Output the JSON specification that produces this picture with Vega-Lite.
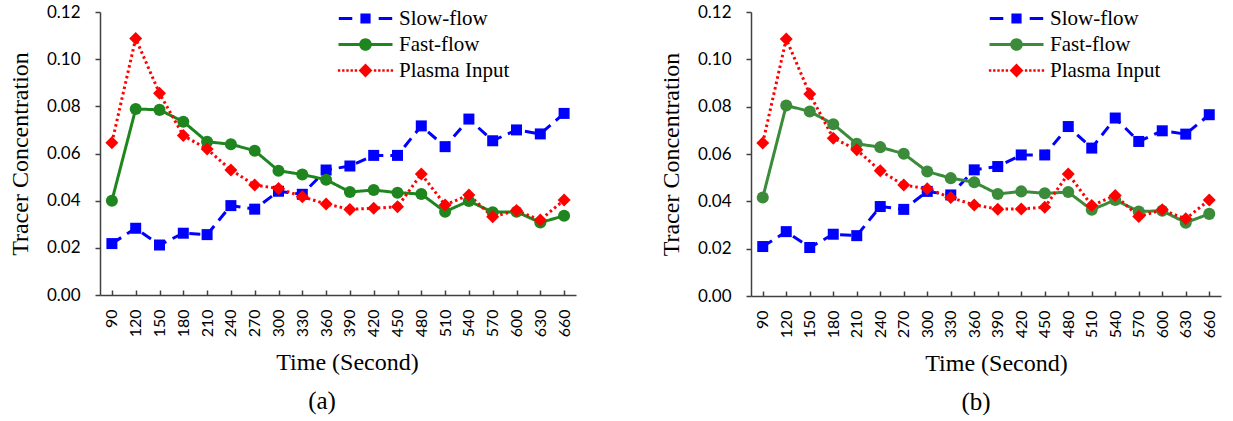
{
  "$schema": "https://vega.github.io/schema/vega-lite/v6.json",
  "background": "white",
  "padding": {"left": 8, "top": 3, "right": 5, "bottom": 0},
  "spacing": 83,
  "config": {
    "view": {"stroke": null},
    "axis": {
      "grid": false,
      "domainColor": "#404040",
      "domainWidth": 1.5,
      "tickColor": "#404040",
      "tickWidth": 1.5,
      "labelFont": "Lato",
      "labelColor": "#000000",
      "titleFont": "Liberation Serif",
      "titleFontSize": 24,
      "titleFontWeight": "normal",
      "titleColor": "#000000"
    },
    "title": {"font": "Liberation Serif", "fontSize": 25, "fontWeight": "normal", "color": "#000000"}
  },
  "datasets": {
    "a": [
      {"time": 90, "Slow-flow": 0.0218, "Fast-flow": 0.0400, "Plasma Input": 0.0646},
      {"time": 120, "Slow-flow": 0.0283, "Fast-flow": 0.0789, "Plasma Input": 0.1088},
      {"time": 150, "Slow-flow": 0.0212, "Fast-flow": 0.0785, "Plasma Input": 0.0855},
      {"time": 180, "Slow-flow": 0.0262, "Fast-flow": 0.0735, "Plasma Input": 0.0676},
      {"time": 210, "Slow-flow": 0.0256, "Fast-flow": 0.0650, "Plasma Input": 0.0619},
      {"time": 240, "Slow-flow": 0.0379, "Fast-flow": 0.0639, "Plasma Input": 0.0530},
      {"time": 270, "Slow-flow": 0.0364, "Fast-flow": 0.0612, "Plasma Input": 0.0466},
      {"time": 300, "Slow-flow": 0.0440, "Fast-flow": 0.0527, "Plasma Input": 0.0452},
      {"time": 330, "Slow-flow": 0.0427, "Fast-flow": 0.0511, "Plasma Input": 0.0417},
      {"time": 360, "Slow-flow": 0.0530, "Fast-flow": 0.0489, "Plasma Input": 0.0386},
      {"time": 390, "Slow-flow": 0.0547, "Fast-flow": 0.0437, "Plasma Input": 0.0363},
      {"time": 420, "Slow-flow": 0.0592, "Fast-flow": 0.0445, "Plasma Input": 0.0368},
      {"time": 450, "Slow-flow": 0.0592, "Fast-flow": 0.0434, "Plasma Input": 0.0374},
      {"time": 480, "Slow-flow": 0.0717, "Fast-flow": 0.0428, "Plasma Input": 0.0513},
      {"time": 510, "Slow-flow": 0.0629, "Fast-flow": 0.0353, "Plasma Input": 0.0382},
      {"time": 540, "Slow-flow": 0.0746, "Fast-flow": 0.0399, "Plasma Input": 0.0424},
      {"time": 570, "Slow-flow": 0.0654, "Fast-flow": 0.0351, "Plasma Input": 0.0332},
      {"time": 600, "Slow-flow": 0.0700, "Fast-flow": 0.0353, "Plasma Input": 0.0358},
      {"time": 630, "Slow-flow": 0.0683, "Fast-flow": 0.0307, "Plasma Input": 0.0318},
      {"time": 660, "Slow-flow": 0.0770, "Fast-flow": 0.0336, "Plasma Input": 0.0403}
    ],
    "b": [
      {"time": 90, "Slow-flow": 0.0209, "Fast-flow": 0.0416, "Plasma Input": 0.0646},
      {"time": 120, "Slow-flow": 0.0272, "Fast-flow": 0.0805, "Plasma Input": 0.1086},
      {"time": 150, "Slow-flow": 0.0205, "Fast-flow": 0.0780, "Plasma Input": 0.0853},
      {"time": 180, "Slow-flow": 0.0261, "Fast-flow": 0.0726, "Plasma Input": 0.0667},
      {"time": 210, "Slow-flow": 0.0255, "Fast-flow": 0.0643, "Plasma Input": 0.0618},
      {"time": 240, "Slow-flow": 0.0378, "Fast-flow": 0.0629, "Plasma Input": 0.0529},
      {"time": 270, "Slow-flow": 0.0366, "Fast-flow": 0.0601, "Plasma Input": 0.0469},
      {"time": 300, "Slow-flow": 0.0442, "Fast-flow": 0.0526, "Plasma Input": 0.0453},
      {"time": 330, "Slow-flow": 0.0427, "Fast-flow": 0.0498, "Plasma Input": 0.0416},
      {"time": 360, "Slow-flow": 0.0533, "Fast-flow": 0.0481, "Plasma Input": 0.0385},
      {"time": 390, "Slow-flow": 0.0547, "Fast-flow": 0.0431, "Plasma Input": 0.0367},
      {"time": 420, "Slow-flow": 0.0596, "Fast-flow": 0.0442, "Plasma Input": 0.0368},
      {"time": 450, "Slow-flow": 0.0596, "Fast-flow": 0.0434, "Plasma Input": 0.0375},
      {"time": 480, "Slow-flow": 0.0716, "Fast-flow": 0.0439, "Plasma Input": 0.0516},
      {"time": 510, "Slow-flow": 0.0625, "Fast-flow": 0.0364, "Plasma Input": 0.0382},
      {"time": 540, "Slow-flow": 0.0752, "Fast-flow": 0.0406, "Plasma Input": 0.0425},
      {"time": 570, "Slow-flow": 0.0653, "Fast-flow": 0.0357, "Plasma Input": 0.0336},
      {"time": 600, "Slow-flow": 0.0698, "Fast-flow": 0.0360, "Plasma Input": 0.0364},
      {"time": 630, "Slow-flow": 0.0684, "Fast-flow": 0.0310, "Plasma Input": 0.0326},
      {"time": 660, "Slow-flow": 0.0766, "Fast-flow": 0.0347, "Plasma Input": 0.0406}
    ]
  },
  "resolve": {"scale": {"color": "independent", "x": "independent", "y": "independent"}, "legend": {"color": "independent"}},
  "hconcat": [
    {
      "width": 476,
      "height": 283,
      "data": {"name": "a"},
      "transform": [{"fold": ["Slow-flow", "Fast-flow", "Plasma Input"], "as": ["series", "value"]}],
      "title": {"text": "(a)", "orient": "bottom", "anchor": "middle", "frame": "group", "offset": 14, "dx": -16, "font": "Liberation Serif", "fontWeight": "normal"},
      "encoding": {
        "x": {
          "field": "time", "type": "ordinal", "sort": "ascending",
          "scale": {"type": "point", "padding": 0.5},
          "axis": {"title": "Time (Second)", "titleFont": "Liberation Serif", "titleFontWeight": "normal", "titleFontSize": 24, "titleX": 247, "titlePadding": 14, "labelAngle": 270, "labelAlign": "right", "labelBaseline": "middle", "labelFontSize": 16, "labelPadding": 19, "tickSize": -5}
        },
        "y": {
          "field": "value", "type": "quantitative",
          "scale": {"domain": [0, 0.12], "nice": false, "zero": true},
          "axis": {"title": "Tracer Concentration", "titleFont": "Liberation Serif", "titleFontWeight": "normal", "values": [0, 0.02, 0.04, 0.06, 0.08, 0.1, 0.12], "format": ".2f", "labelFontSize": 17, "labelPadding": 15, "tickSize": 5, "titlePadding": 14}
        },
        "color": {
          "field": "series", "type": "nominal",
          "scale": {"domain": ["Slow-flow", "Fast-flow", "Plasma Input"], "range": ["#0000ff", "#1f861f", "#ff0000"]},
          "legend": {
            "orient": "none", "legendX": 234, "legendY": -4, "title": null, "padding": 0,
            "labelFont": "Liberation Serif", "labelFontWeight": "normal", "labelFontSize": 21, "labelColor": "#000000",
            "symbolSize": 144, "symbolOffset": 21, "labelOffset": 23, "rowPadding": 4, "symbolStrokeWidth": 0,
            "encode": {"symbols": {"update": {
              "shape": {"signal": "datum.value == 'Slow-flow' ? 'M-4.45,-0.25H-2.2V0.25H-4.45Z M-0.85,-0.85H0.85V0.85H-0.85Z M2.2,-0.25H4.45V0.25H2.2Z' : datum.value == 'Fast-flow' ? 'M-4.5,-0.25H-1V0.25H-4.5Z M1,-0.25H4.5V0.25H1Z M-1.05,0C-1.05,-0.58 -0.58,-1.05 0,-1.05C0.58,-1.05 1.05,-0.58 1.05,0C1.05,0.58 0.58,1.05 0,1.05C-0.58,1.05 -1.05,0.58 -1.05,0Z' : 'M-4.6,-0.2h0.4v0.4h-0.4Z M-3.9,-0.2h0.4v0.4h-0.4Z M-3.2,-0.2h0.4v0.4h-0.4Z M-2.5,-0.2h0.4v0.4h-0.4Z M-1.8,-0.2h0.4v0.4h-0.4Z M0,-1.15L1.15,0L0,1.15L-1.15,0Z M1.4,-0.2h0.4v0.4h-0.4Z M2.1,-0.2h0.4v0.4h-0.4Z M2.8,-0.2h0.4v0.4h-0.4Z M3.5,-0.2h0.4v0.4h-0.4Z M4.2,-0.2h0.4v0.4h-0.4Z'"},
              "fill": {"signal": "datum.value == 'Slow-flow' ? '#0000ff' : datum.value == 'Fast-flow' ? '#1f861f' : '#ff0000'"},
              "stroke": {"value": "transparent"},
              "opacity": {"value": 1}
            }}}
          }
        }
      },
      "layer": [
        {
          "mark": {"type": "line", "strokeWidth": 3},
          "encoding": {
            "strokeDash": {"field": "series", "type": "nominal", "scale": {"domain": ["Slow-flow", "Fast-flow", "Plasma Input"], "range": [[11, 7], [1, 0], [2.5, 3]]}, "legend": null}
          }
        },
        {
          "mark": {"type": "point", "filled": true, "opacity": 1},
          "encoding": {
            "shape": {"field": "series", "type": "nominal", "scale": {"domain": ["Slow-flow", "Fast-flow", "Plasma Input"], "range": ["square", "circle", "diamond"]}, "legend": null},
            "size": {"field": "series", "type": "ordinal", "scale": {"domain": ["Slow-flow", "Fast-flow", "Plasma Input"], "range": [121, 169, 196]}, "legend": null}
          }
        }
      ]
    },
    {
      "width": 470,
      "height": 284,
      "data": {"name": "b"},
      "transform": [{"fold": ["Slow-flow", "Fast-flow", "Plasma Input"], "as": ["series", "value"]}],
      "title": {"text": "(b)", "orient": "bottom", "anchor": "middle", "frame": "group", "offset": 14, "dx": -10, "font": "Liberation Serif", "fontWeight": "normal"},
      "encoding": {
        "x": {
          "field": "time", "type": "ordinal", "sort": "ascending",
          "scale": {"type": "point", "padding": 0.5},
          "axis": {"title": "Time (Second)", "titleFont": "Liberation Serif", "titleFontWeight": "normal", "titleFontSize": 24, "titleX": 245, "titlePadding": 14, "labelAngle": 270, "labelAlign": "right", "labelBaseline": "middle", "labelFontSize": 16, "labelPadding": 19, "tickSize": -5}
        },
        "y": {
          "field": "value", "type": "quantitative",
          "scale": {"domain": [0, 0.12], "nice": false, "zero": true},
          "axis": {"title": "Tracer Concentration", "titleFont": "Liberation Serif", "titleFontWeight": "normal", "values": [0, 0.02, 0.04, 0.06, 0.08, 0.1, 0.12], "format": ".2f", "labelFontSize": 17, "labelPadding": 15, "tickSize": 5, "titlePadding": 14}
        },
        "color": {
          "field": "series", "type": "nominal",
          "scale": {"domain": ["Slow-flow", "Fast-flow", "Plasma Input"], "range": ["#0000ff", "#3b8b3b", "#ff0000"]},
          "legend": {
            "orient": "none", "legendX": 234, "legendY": -4, "title": null, "padding": 0,
            "labelFont": "Liberation Serif", "labelFontWeight": "normal", "labelFontSize": 21, "labelColor": "#000000",
            "symbolSize": 144, "symbolOffset": 21, "labelOffset": 23, "rowPadding": 4, "symbolStrokeWidth": 0,
            "encode": {"symbols": {"update": {
              "shape": {"signal": "datum.value == 'Slow-flow' ? 'M-4.45,-0.25H-2.2V0.25H-4.45Z M-0.85,-0.85H0.85V0.85H-0.85Z M2.2,-0.25H4.45V0.25H2.2Z' : datum.value == 'Fast-flow' ? 'M-4.5,-0.25H-1V0.25H-4.5Z M1,-0.25H4.5V0.25H1Z M-1.05,0C-1.05,-0.58 -0.58,-1.05 0,-1.05C0.58,-1.05 1.05,-0.58 1.05,0C1.05,0.58 0.58,1.05 0,1.05C-0.58,1.05 -1.05,0.58 -1.05,0Z' : 'M-4.6,-0.2h0.4v0.4h-0.4Z M-3.9,-0.2h0.4v0.4h-0.4Z M-3.2,-0.2h0.4v0.4h-0.4Z M-2.5,-0.2h0.4v0.4h-0.4Z M-1.8,-0.2h0.4v0.4h-0.4Z M0,-1.15L1.15,0L0,1.15L-1.15,0Z M1.4,-0.2h0.4v0.4h-0.4Z M2.1,-0.2h0.4v0.4h-0.4Z M2.8,-0.2h0.4v0.4h-0.4Z M3.5,-0.2h0.4v0.4h-0.4Z M4.2,-0.2h0.4v0.4h-0.4Z'"},
              "fill": {"signal": "datum.value == 'Slow-flow' ? '#0000ff' : datum.value == 'Fast-flow' ? '#3b8b3b' : '#ff0000'"},
              "stroke": {"value": "transparent"},
              "opacity": {"value": 1}
            }}}
          }
        }
      },
      "layer": [
        {
          "mark": {"type": "line", "strokeWidth": 3},
          "encoding": {
            "strokeDash": {"field": "series", "type": "nominal", "scale": {"domain": ["Slow-flow", "Fast-flow", "Plasma Input"], "range": [[11, 7], [1, 0], [2.5, 3]]}, "legend": null}
          }
        },
        {
          "mark": {"type": "point", "filled": true, "opacity": 1},
          "encoding": {
            "shape": {"field": "series", "type": "nominal", "scale": {"domain": ["Slow-flow", "Fast-flow", "Plasma Input"], "range": ["square", "circle", "diamond"]}, "legend": null},
            "size": {"field": "series", "type": "ordinal", "scale": {"domain": ["Slow-flow", "Fast-flow", "Plasma Input"], "range": [121, 169, 196]}, "legend": null}
          }
        }
      ]
    }
  ]
}
